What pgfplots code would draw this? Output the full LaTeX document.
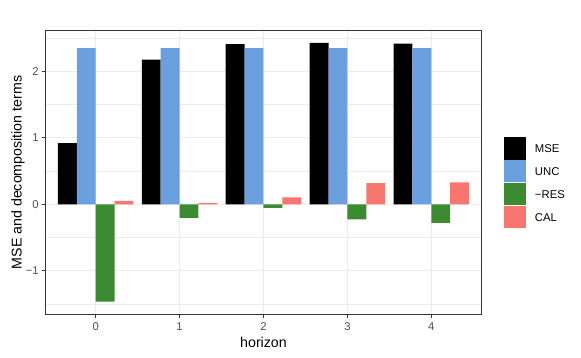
\documentclass[border=0pt]{standalone}
\usepackage{pgfplots}
\pgfplotsset{compat=1.18}
\usepackage{fontspec}
\setmainfont{Liberation Sans}
\definecolor{cMSE}{HTML}{000000}
\definecolor{cUNC}{HTML}{6A9FE0}
\definecolor{cRES}{HTML}{3B8B30}
\definecolor{cCAL}{HTML}{F8766D}
\definecolor{gridc}{HTML}{EBEBEB}
\definecolor{gray30}{HTML}{4D4D4D}
\definecolor{gray20}{HTML}{333333}
\pgfplotsset{
  mybar/.style={ybar, bar width=0.225, draw=none, fill=#1,
    legend image code/.code={\fill[fill=#1,draw=none] (0pt,-10.2pt) rectangle (22pt,12.2pt);}},
}
\begin{document}
\begin{tikzpicture}
\useasboundingbox (0,0) rectangle (581pt,358pt);
\begin{axis}[
  at={(45.3pt,43.7pt)}, anchor=south west,
  scale only axis, width=436.4pt, height=283.6pt,
  xmin=-0.6, xmax=4.6, ymin=-1.657, ymax=2.614,
  xtick={0,1,2,3,4}, xticklabels={0,1,2,3,4},
  ytick={-1,0,1,2}, yticklabels={−1,0,1,2},
  minor ytick={-1.5,-0.5,0.5,1.5,2.5},
  xmajorgrids, ymajorgrids, yminorgrids,
  major grid style={color=gridc, line width=1.2pt},
  minor grid style={color=gridc, line width=0.6pt},
  axis line style={gray20, line width=1.2pt},
  tick align=outside, tick pos=left,
  major tick length=3.55pt, minor tick length=0pt,
  every tick/.style={gray20, line width=1.2pt},
  tick label style={font=\fontsize{11.3}{11.3}\selectfont, text=gray30, inner sep=0pt},
  yticklabel shift=2.8pt, xticklabel shift=4.8pt,
  xlabel={horizon}, ylabel={MSE and decomposition terms},
  label style={font=\fontsize{14.2}{14.2}\selectfont},
  xlabel style={at={(axis description cs:0.5,-0.100)}, anchor=center, inner sep=0pt},
  ylabel style={at={(axis description cs:-0.0626,0.5)}, anchor=center, inner sep=0pt},
  legend style={draw=none, fill=none, inner sep=0pt, outer sep=0pt,
    at={(1.0511,0.6241)}, anchor=north west, row sep=0.4pt,
    font=\fontsize{11.3}{11.3}\selectfont,
    nodes={inner sep=0pt},
    /tikz/every odd column/.append style={column sep=9pt}},
  legend cell align=left,
]
\addplot[mybar=cMSE, bar shift=-0.3375] coordinates {(0,0.92) (1,2.18) (2,2.41) (3,2.43) (4,2.42)};
\addplot[mybar=cUNC, bar shift=-0.1125] coordinates {(0,2.35) (1,2.35) (2,2.35) (3,2.35) (4,2.35)};
\addplot[mybar=cRES, bar shift=0.1125] coordinates {(0,-1.467) (1,-0.206) (2,-0.056) (3,-0.229) (4,-0.28)};
\addplot[mybar=cCAL, bar shift=0.3375] coordinates {(0,0.05) (1,0.02) (2,0.105) (3,0.32) (4,0.33)};
\legend{MSE,UNC,−RES,CAL}
\end{axis}
\end{tikzpicture}
\end{document}
